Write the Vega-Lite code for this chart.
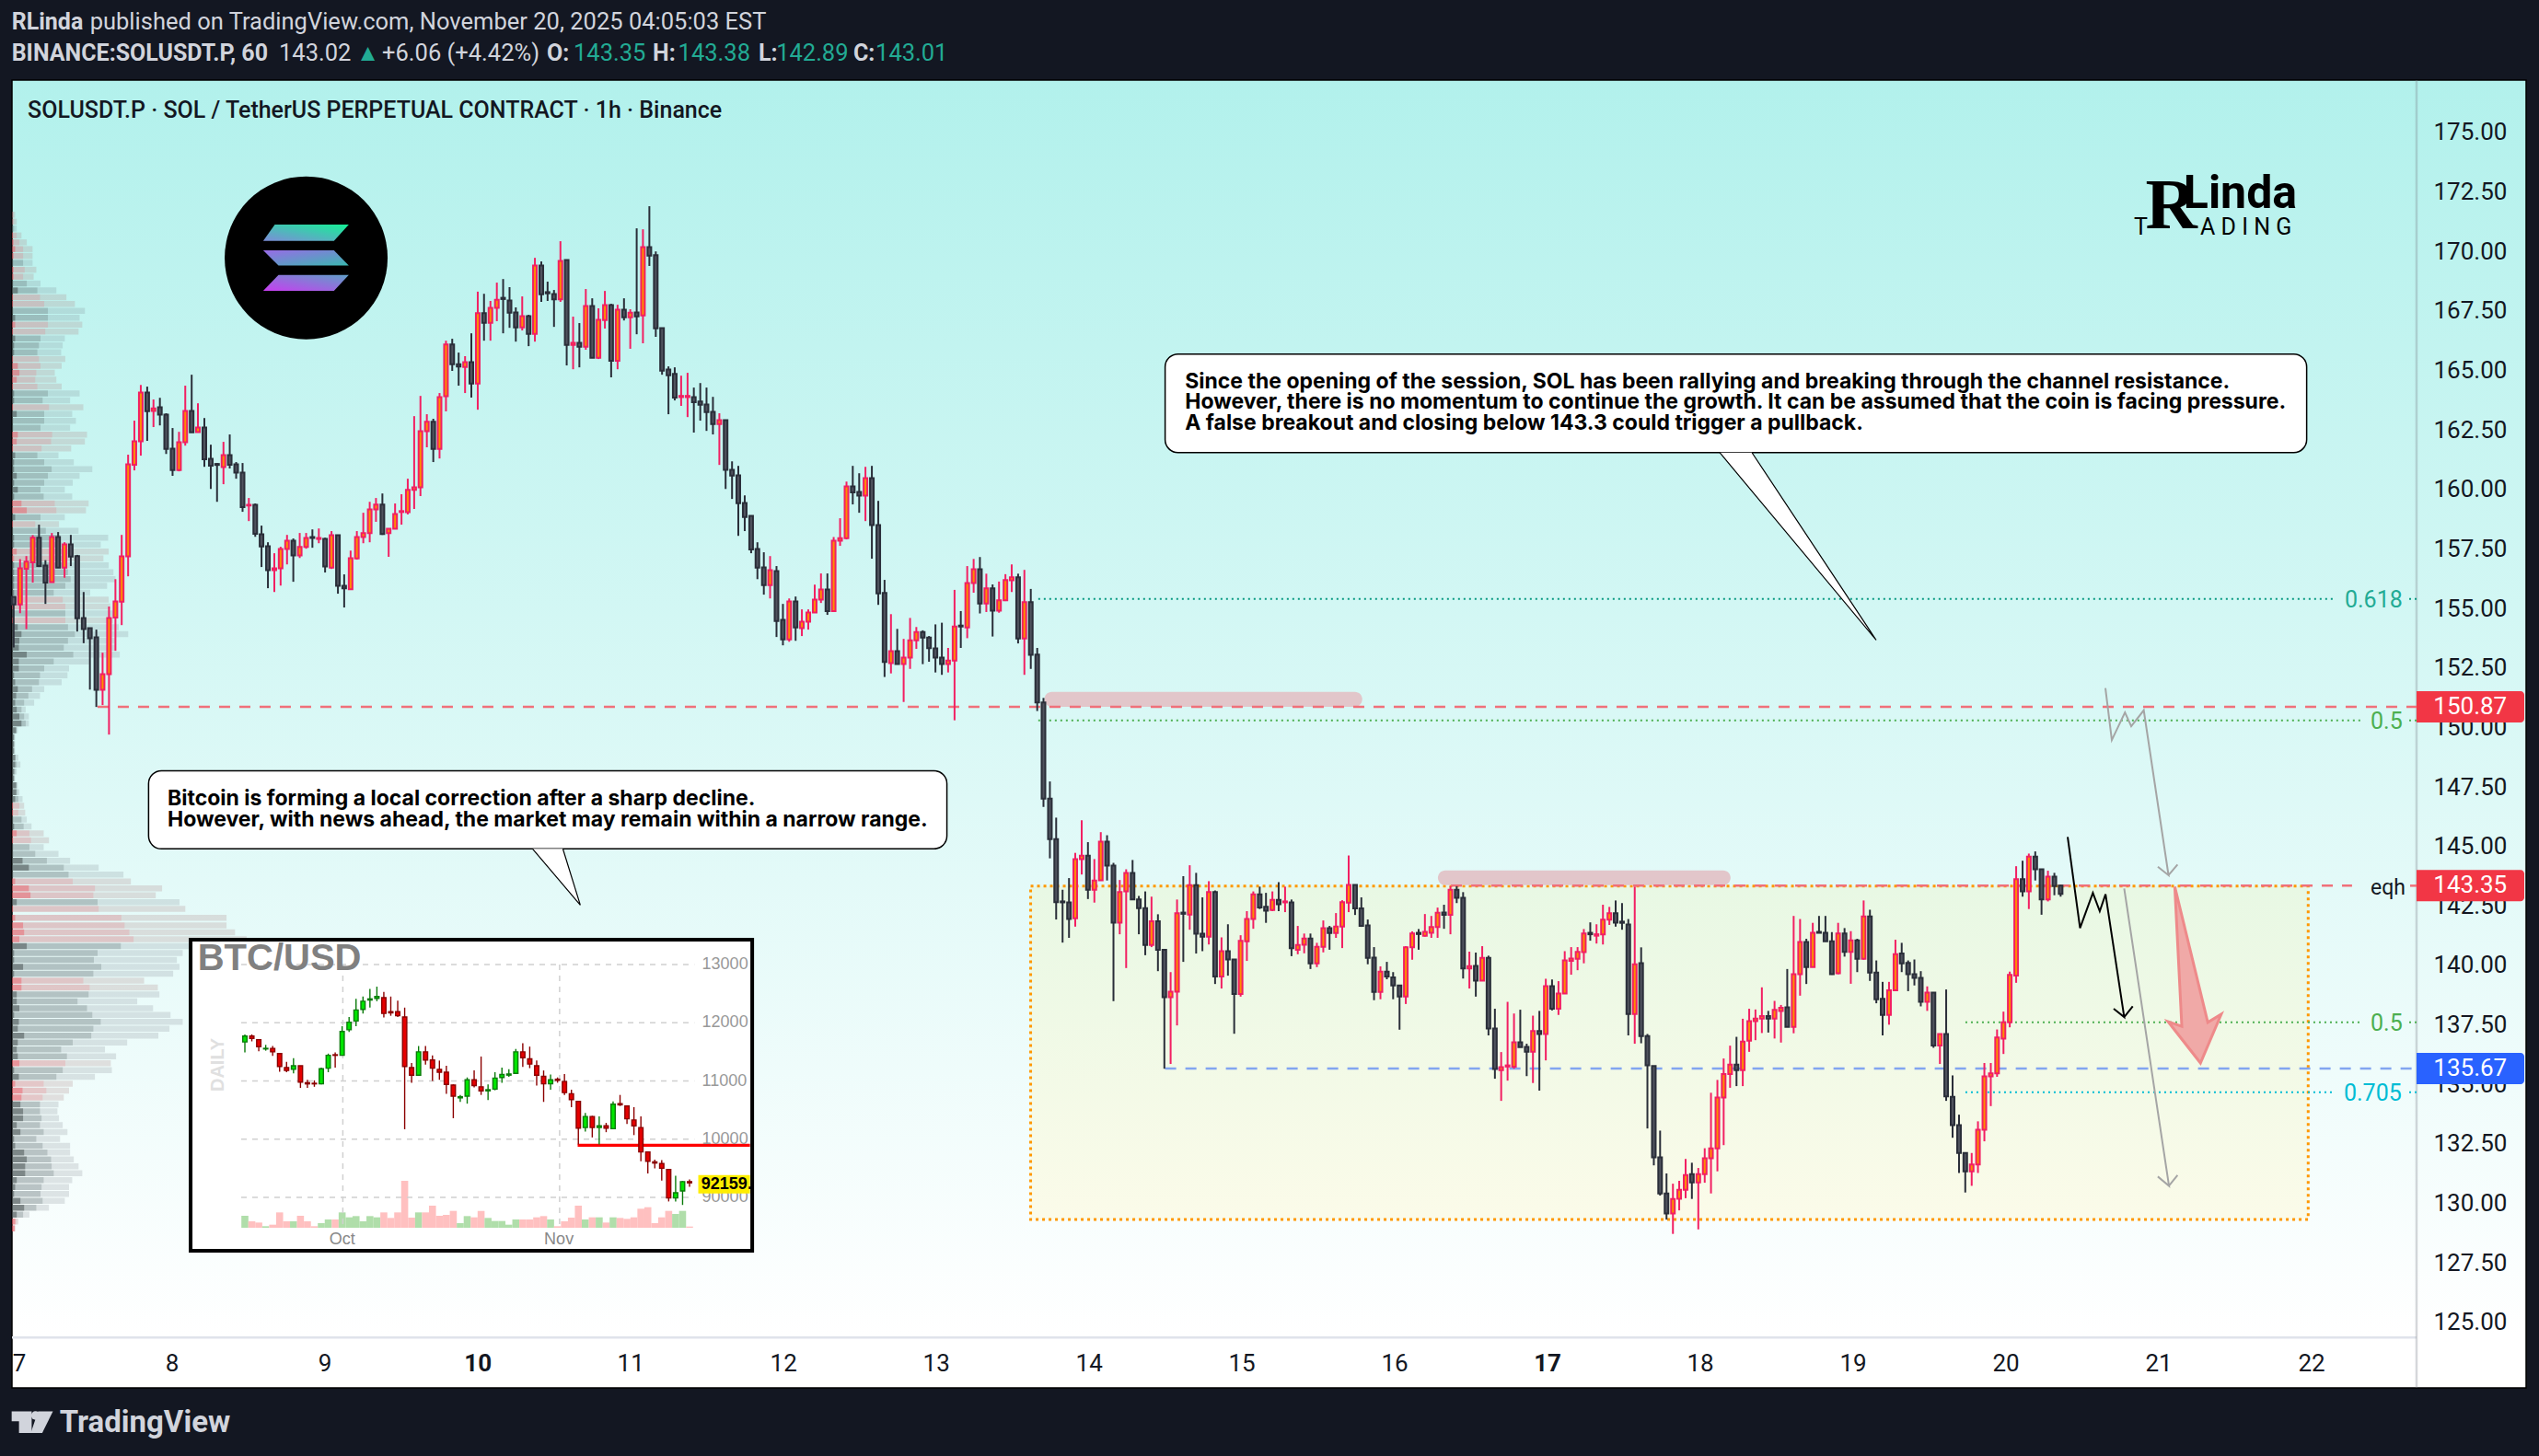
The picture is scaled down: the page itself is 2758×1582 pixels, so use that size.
{
"$schema":"https://vega.github.io/schema/vega-lite/v6.json",
"width":2731,"height":1421,
"autosize":{"type":"none"},
"padding":{"left":13,"top":87,"right":14,"bottom":74},
"background":"#131722",
"view":{"fill":{"gradient":"linear","x1":0,"y1":0,"x2":0,"y2":1,"stops":[{"offset":0,"color":"#b2f1ec"},{"offset":0.96,"color":"#ffffff"},{"offset":1,"color":"#ffffff"}]},"stroke":"#000000","strokeWidth":1.5},
"config":{"font":"Roboto","text":{"font":"Roboto"}},
"resolve":{"scale":{"x":"independent","y":"independent"},"axis":{"x":"independent","y":"independent"}},
"datasets":{
"profile":[
{"p":171.54,"k":"r","a":0,"b":3,"c":6},{"p":171.25,"k":"r","a":0,"b":4,"c":9},{"p":170.96,"k":"g","a":0,"b":4,"c":9},{"p":170.67,"k":"r","a":2,"b":9,"c":18},{"p":170.38,"k":"r","a":3,"b":14,"c":28},{"p":170.10,"k":"r","a":6,"b":21,"c":39},{"p":169.81,"k":"r","a":3,"b":21,"c":39},{"p":169.52,"k":"g","a":2,"b":21,"c":39},{"p":169.23,"k":"r","a":3,"b":24,"c":46},{"p":168.94,"k":"r","a":3,"b":21,"c":41},
{"p":168.65,"k":"g","a":2,"b":28,"c":54},{"p":168.36,"k":"g","a":11,"b":48,"c":84},{"p":168.07,"k":"r","a":2,"b":53,"c":103},{"p":167.79,"k":"r","a":2,"b":61,"c":119},{"p":167.50,"k":"g","a":2,"b":68,"c":138},{"p":167.21,"k":"g","a":6,"b":68,"c":128},{"p":166.92,"k":"r","a":6,"b":68,"c":133},{"p":166.63,"k":"r","a":2,"b":63,"c":126},{"p":166.34,"k":"g","a":6,"b":54,"c":100},{"p":166.05,"k":"g","a":4,"b":51,"c":96},
{"p":165.76,"k":"g","a":4,"b":48,"c":93},{"p":165.48,"k":"r","a":2,"b":51,"c":101},{"p":165.19,"k":"r","a":11,"b":54,"c":94},{"p":164.90,"k":"r","a":14,"b":46,"c":81},{"p":164.61,"k":"r","a":9,"b":44,"c":84},{"p":164.32,"k":"r","a":2,"b":48,"c":94},{"p":164.03,"k":"g","a":4,"b":68,"c":128},{"p":163.74,"k":"g","a":4,"b":58,"c":110},{"p":163.45,"k":"r","a":2,"b":70,"c":135},{"p":163.17,"k":"g","a":9,"b":61,"c":114},
{"p":162.88,"k":"g","a":2,"b":61,"c":121},{"p":162.59,"k":"g","a":2,"b":54,"c":110},{"p":162.30,"k":"r","a":11,"b":76,"c":142},{"p":162.01,"k":"r","a":9,"b":74,"c":138},{"p":161.72,"k":"r","a":2,"b":56,"c":112},{"p":161.43,"k":"g","a":6,"b":48,"c":88},{"p":161.14,"k":"g","a":4,"b":61,"c":117},{"p":160.85,"k":"g","a":4,"b":75,"c":152},{"p":160.57,"k":"g","a":9,"b":68,"c":128},{"p":160.28,"k":"g","a":4,"b":61,"c":115},
{"p":159.99,"k":"g","a":11,"b":54,"c":100},{"p":159.70,"k":"g","a":4,"b":60,"c":114},{"p":159.41,"k":"r","a":18,"b":81,"c":145},{"p":159.12,"k":"r","a":28,"b":84,"c":140},{"p":158.83,"k":"g","a":6,"b":54,"c":100},{"p":158.54,"k":"r","a":2,"b":44,"c":89},{"p":158.26,"k":"g","a":2,"b":64,"c":126},{"p":157.97,"k":"g","a":4,"b":91,"c":182},{"p":157.68,"k":"g","a":4,"b":86,"c":168},{"p":157.39,"k":"r","a":9,"b":101,"c":183},
{"p":157.10,"k":"r","a":4,"b":96,"c":173},{"p":156.81,"k":"g","a":4,"b":101,"c":183},{"p":156.52,"k":"g","a":4,"b":106,"c":192},{"p":156.23,"k":"g","a":4,"b":111,"c":196},{"p":155.95,"k":"g","a":4,"b":101,"c":180},{"p":155.66,"k":"g","a":4,"b":79,"c":148},{"p":155.37,"k":"r","a":4,"b":96,"c":183},{"p":155.08,"k":"r","a":4,"b":101,"c":186},{"p":154.79,"k":"g","a":4,"b":101,"c":191},{"p":154.50,"k":"r","a":4,"b":101,"c":191},
{"p":154.21,"k":"g","a":11,"b":106,"c":202},{"p":153.92,"k":"g","a":18,"b":119,"c":220},{"p":153.64,"k":"g","a":14,"b":106,"c":196},{"p":153.35,"k":"g","a":13,"b":98,"c":196},{"p":153.06,"k":"g","a":28,"b":116,"c":204},{"p":152.77,"k":"g","a":13,"b":79,"c":146},{"p":152.48,"k":"g","a":13,"b":61,"c":108},{"p":152.19,"k":"g","a":4,"b":53,"c":105},{"p":151.90,"k":"g","a":6,"b":51,"c":94},{"p":151.61,"k":"g","a":11,"b":38,"c":61},
{"p":151.33,"k":"g","a":8,"b":31,"c":53},{"p":151.04,"k":"g","a":6,"b":23,"c":42},{"p":150.75,"k":"g","a":9,"b":18,"c":26},{"p":150.46,"k":"g","a":14,"b":23,"c":32},{"p":150.17,"k":"g","a":18,"b":26,"c":32},{"p":149.88,"k":"g","a":8,"b":8,"c":11},{"p":149.59,"k":"g","a":4,"b":4,"c":6},{"p":149.30,"k":"g","a":4,"b":4,"c":6},{"p":149.02,"k":"g","a":4,"b":4,"c":6},{"p":148.73,"k":"g","a":6,"b":7,"c":12},
{"p":148.44,"k":"g","a":6,"b":9,"c":16},{"p":148.15,"k":"g","a":4,"b":6,"c":9},{"p":147.86,"k":"g","a":4,"b":4,"c":6},{"p":147.57,"k":"g","a":8,"b":9,"c":11},{"p":147.28,"k":"g","a":8,"b":10,"c":14},{"p":146.99,"k":"g","a":6,"b":12,"c":20},{"p":146.71,"k":"r","a":2,"b":14,"c":23},{"p":146.42,"k":"r","a":2,"b":12,"c":25},{"p":146.13,"k":"g","a":2,"b":18,"c":28},{"p":145.84,"k":"g","a":4,"b":22,"c":37},
{"p":145.55,"k":"r","a":9,"b":33,"c":60},{"p":145.26,"k":"r","a":2,"b":36,"c":70},{"p":144.97,"k":"g","a":2,"b":33,"c":60},{"p":144.69,"k":"g","a":2,"b":44,"c":88},{"p":144.40,"k":"g","a":20,"b":66,"c":110},{"p":144.11,"k":"g","a":32,"b":98,"c":164},{"p":143.82,"k":"g","a":2,"b":107,"c":211},{"p":143.53,"k":"r","a":6,"b":115,"c":225},{"p":143.24,"k":"r","a":32,"b":157,"c":284},{"p":142.95,"k":"r","a":35,"b":154,"c":272},
{"p":142.66,"k":"g","a":9,"b":162,"c":317},{"p":142.38,"k":"r","a":2,"b":164,"c":328},{"p":142.00,"k":"r","a":6,"b":207,"c":406},{"p":141.68,"k":"r","a":21,"b":213,"c":406},{"p":141.39,"k":"r","a":23,"b":222,"c":422},{"p":141.10,"k":"r","a":14,"b":230,"c":444},{"p":140.81,"k":"g","a":28,"b":206,"c":336},{"p":140.52,"k":"g","a":4,"b":162,"c":323},{"p":140.23,"k":"g","a":4,"b":155,"c":312},{"p":139.94,"k":"g","a":21,"b":169,"c":317},
{"p":139.65,"k":"g","a":4,"b":154,"c":305},{"p":139.36,"k":"r","a":18,"b":135,"c":250},{"p":139.07,"k":"r","a":18,"b":147,"c":276},{"p":138.78,"k":"g","a":9,"b":145,"c":279},{"p":138.49,"k":"g","a":9,"b":124,"c":237},{"p":138.20,"k":"g","a":14,"b":142,"c":267},{"p":137.92,"k":"g","a":4,"b":152,"c":300},{"p":137.63,"k":"g","a":13,"b":168,"c":323},{"p":137.34,"k":"g","a":11,"b":154,"c":298},{"p":137.05,"k":"g","a":23,"b":150,"c":277},
{"p":136.76,"k":"g","a":11,"b":115,"c":218},{"p":136.47,"k":"g","a":9,"b":93,"c":176},{"p":136.18,"k":"g","a":11,"b":104,"c":197},{"p":135.89,"k":"r","a":14,"b":101,"c":187},{"p":135.60,"k":"g","a":4,"b":96,"c":189},{"p":135.32,"k":"g","a":13,"b":84,"c":157},{"p":135.03,"k":"r","a":6,"b":60,"c":115},{"p":134.74,"k":"r","a":20,"b":65,"c":108},{"p":134.45,"k":"r","a":18,"b":58,"c":98},{"p":134.16,"k":"g","a":16,"b":53,"c":88},
{"p":133.87,"k":"g","a":21,"b":53,"c":86},{"p":133.58,"k":"g","a":21,"b":56,"c":89},{"p":133.29,"k":"g","a":9,"b":53,"c":96},{"p":133.00,"k":"g","a":16,"b":60,"c":105},{"p":132.71,"k":"g","a":4,"b":46,"c":91},{"p":132.42,"k":"g","a":6,"b":58,"c":110},{"p":132.14,"k":"g","a":23,"b":67,"c":110},{"p":131.85,"k":"g","a":28,"b":74,"c":117},{"p":131.56,"k":"g","a":25,"b":75,"c":126},{"p":131.27,"k":"g","a":25,"b":79,"c":133},
{"p":130.98,"k":"g","a":9,"b":60,"c":114},{"p":130.69,"k":"g","a":6,"b":56,"c":108},{"p":130.40,"k":"g","a":4,"b":54,"c":108},{"p":130.11,"k":"g","a":16,"b":58,"c":100},{"p":129.82,"k":"g","a":23,"b":46,"c":70},{"p":129.53,"k":"g","a":9,"b":21,"c":33},{"p":129.24,"k":"r","a":6,"b":8,"c":12},{"p":128.95,"k":"r","a":5,"b":6,"c":6}
],
"candles":[
{"d":6.965,"o":155.49,"h":155.49,"l":153.36,"c":155.17},{"d":7.007,"o":155.17,"h":157.07,"l":154.80,"c":156.69},{"d":7.048,"o":156.67,"h":157.20,"l":154.13,"c":156.97},{"d":7.090,"o":156.94,"h":158.08,"l":156.09,"c":157.97},{"d":7.131,"o":157.97,"h":158.52,"l":156.74,"c":156.78},{"d":7.173,"o":156.80,"h":157.03,"l":155.19,"c":156.09},{"d":7.215,"o":156.11,"h":158.17,"l":156.11,"c":158.00},{"d":7.256,"o":158.00,"h":158.21,"l":156.71,"c":156.71},{"d":7.298,"o":156.71,"h":157.78,"l":156.29,"c":157.69},{"d":7.339,"o":157.69,"h":158.09,"l":156.78,"c":157.18},
{"d":7.381,"o":157.20,"h":157.25,"l":154.03,"c":154.59},{"d":7.423,"o":154.60,"h":155.69,"l":153.54,"c":154.13},{"d":7.464,"o":154.17,"h":154.17,"l":151.59,"c":153.75},{"d":7.506,"o":153.79,"h":154.11,"l":150.86,"c":151.58},{"d":7.547,"o":151.58,"h":153.14,"l":150.94,"c":152.24},{"d":7.589,"o":152.24,"h":155.08,"l":149.70,"c":154.60},{"d":7.631,"o":154.62,"h":156.23,"l":153.22,"c":155.29},{"d":7.672,"o":155.28,"h":158.09,"l":154.30,"c":157.19},{"d":7.714,"o":157.19,"h":161.46,"l":156.35,"c":161.06},{"d":7.755,"o":161.04,"h":162.89,"l":160.80,"c":162.02},
{"d":7.797,"o":162.02,"h":164.39,"l":161.42,"c":164.07},{"d":7.839,"o":164.07,"h":164.32,"l":162.04,"c":163.29},{"d":7.880,"o":163.30,"h":163.78,"l":162.62,"c":163.40},{"d":7.922,"o":163.45,"h":163.85,"l":162.69,"c":163.14},{"d":7.963,"o":163.14,"h":163.20,"l":161.49,"c":161.70},{"d":8.005,"o":161.71,"h":162.58,"l":160.57,"c":160.81},{"d":8.047,"o":160.81,"h":162.42,"l":160.76,"c":161.98},{"d":8.088,"o":161.98,"h":164.36,"l":161.84,"c":163.30},{"d":8.130,"o":163.30,"h":164.82,"l":162.40,"c":162.40},{"d":8.171,"o":162.41,"h":163.62,"l":162.40,"c":162.60},
{"d":8.213,"o":162.60,"h":163.00,"l":160.95,"c":161.27},{"d":8.255,"o":161.29,"h":161.88,"l":160.02,"c":161.00},{"d":8.296,"o":161.07,"h":161.11,"l":159.48,"c":161.03},{"d":8.338,"o":160.94,"h":162.00,"l":160.22,"c":161.44},{"d":8.379,"o":161.44,"h":162.31,"l":160.88,"c":161.04},{"d":8.421,"o":161.06,"h":161.15,"l":160.45,"c":160.71},{"d":8.463,"o":160.71,"h":161.11,"l":159.06,"c":159.26},{"d":8.504,"o":159.32,"h":159.64,"l":158.67,"c":159.35},{"d":8.546,"o":159.35,"h":159.41,"l":158.01,"c":158.14},{"d":8.587,"o":158.12,"h":158.48,"l":156.74,"c":157.60},
{"d":8.629,"o":157.61,"h":157.78,"l":155.85,"c":156.61},{"d":8.671,"o":156.61,"h":157.32,"l":155.69,"c":156.69},{"d":8.712,"o":156.69,"h":157.59,"l":155.96,"c":157.50},{"d":8.754,"o":157.50,"h":158.09,"l":156.85,"c":157.85},{"d":8.795,"o":157.85,"h":157.94,"l":156.12,"c":157.23},{"d":8.837,"o":157.23,"h":158.17,"l":157.12,"c":157.58},{"d":8.879,"o":157.58,"h":158.17,"l":157.51,"c":157.96},{"d":8.920,"o":158.00,"h":158.32,"l":157.55,"c":157.96},{"d":8.962,"o":157.92,"h":158.36,"l":157.74,"c":157.96},{"d":9.003,"o":157.92,"h":157.97,"l":156.51,"c":156.76},
{"d":9.045,"o":156.71,"h":158.25,"l":156.66,"c":158.08},{"d":9.087,"o":158.08,"h":158.08,"l":155.62,"c":155.95},{"d":9.128,"o":155.95,"h":156.43,"l":155.04,"c":155.84},{"d":9.170,"o":155.81,"h":157.43,"l":155.81,"c":157.11},{"d":9.211,"o":157.10,"h":158.25,"l":157.05,"c":158.00},{"d":9.253,"o":158.00,"h":159.02,"l":157.74,"c":158.16},{"d":9.295,"o":158.16,"h":159.48,"l":157.78,"c":159.16},{"d":9.336,"o":159.16,"h":159.64,"l":158.64,"c":159.36},{"d":9.378,"o":159.36,"h":159.83,"l":158.09,"c":158.13},{"d":9.419,"o":158.16,"h":158.35,"l":157.17,"c":158.35},
{"d":9.461,"o":158.35,"h":159.41,"l":158.35,"c":158.97},{"d":9.503,"o":159.05,"h":159.80,"l":158.52,"c":159.09},{"d":9.544,"o":159.04,"h":160.45,"l":158.95,"c":159.98},{"d":9.586,"o":159.98,"h":163.08,"l":159.18,"c":160.09},{"d":9.627,"o":160.09,"h":163.93,"l":159.72,"c":162.45},{"d":9.669,"o":162.45,"h":163.16,"l":161.77,"c":162.84},{"d":9.711,"o":162.84,"h":162.97,"l":161.15,"c":161.70},{"d":9.752,"o":161.70,"h":164.05,"l":161.30,"c":163.88},{"d":9.794,"o":163.92,"h":166.25,"l":163.28,"c":166.09},{"d":9.835,"o":166.09,"h":166.33,"l":164.98,"c":165.26},
{"d":9.877,"o":165.26,"h":165.75,"l":164.36,"c":165.16},{"d":9.919,"o":165.14,"h":165.60,"l":164.05,"c":165.35},{"d":9.960,"o":165.35,"h":166.56,"l":163.86,"c":164.45},{"d":10.002,"o":164.45,"h":168.31,"l":163.35,"c":167.41},{"d":10.043,"o":167.41,"h":168.22,"l":166.25,"c":167.00},{"d":10.085,"o":167.00,"h":167.92,"l":166.25,"c":167.63},{"d":10.127,"o":167.63,"h":168.69,"l":167.07,"c":167.97},{"d":10.168,"o":168.05,"h":168.84,"l":166.56,"c":168.00},{"d":10.210,"o":167.94,"h":168.50,"l":166.79,"c":167.43},{"d":10.251,"o":167.44,"h":167.65,"l":166.21,"c":166.81},
{"d":10.293,"o":166.81,"h":168.11,"l":166.68,"c":167.28},{"d":10.335,"o":167.28,"h":167.34,"l":166.02,"c":166.54},{"d":10.376,"o":166.54,"h":169.73,"l":166.21,"c":169.41},{"d":10.418,"o":169.41,"h":169.58,"l":167.88,"c":168.20},{"d":10.459,"o":168.29,"h":168.73,"l":167.92,"c":168.24},{"d":10.501,"o":168.21,"h":168.38,"l":166.83,"c":167.99},{"d":10.543,"o":167.99,"h":170.43,"l":167.88,"c":169.60},{"d":10.584,"o":169.64,"h":169.64,"l":165.21,"c":166.07},{"d":10.626,"o":166.07,"h":167.26,"l":165.05,"c":166.16},{"d":10.667,"o":166.16,"h":166.99,"l":165.13,"c":166.00},
{"d":10.709,"o":166.00,"h":168.42,"l":165.87,"c":167.71},{"d":10.751,"o":167.71,"h":168.03,"l":165.53,"c":165.53},{"d":10.792,"o":165.53,"h":167.61,"l":165.48,"c":167.13},{"d":10.834,"o":167.12,"h":168.34,"l":166.76,"c":167.75},{"d":10.875,"o":167.75,"h":167.80,"l":164.71,"c":165.41},{"d":10.917,"o":165.41,"h":167.76,"l":165.05,"c":167.55},{"d":10.959,"o":167.55,"h":168.03,"l":167.10,"c":167.23},{"d":11.000,"o":167.23,"h":167.57,"l":165.91,"c":167.43},{"d":11.042,"o":167.44,"h":170.97,"l":166.52,"c":167.27},{"d":11.083,"o":167.31,"h":170.93,"l":166.14,"c":170.18},
{"d":11.125,"o":170.18,"h":171.90,"l":169.39,"c":169.82},{"d":11.167,"o":169.84,"h":170.00,"l":166.41,"c":166.77},{"d":11.208,"o":166.78,"h":166.78,"l":164.82,"c":164.99},{"d":11.250,"o":165.04,"h":165.17,"l":163.16,"c":164.80},{"d":11.291,"o":164.85,"h":165.13,"l":163.74,"c":163.86},{"d":11.333,"o":163.88,"h":164.78,"l":163.51,"c":163.93},{"d":11.375,"o":163.88,"h":164.90,"l":163.04,"c":163.93},{"d":11.416,"o":163.88,"h":164.28,"l":162.39,"c":163.67},{"d":11.458,"o":163.69,"h":164.47,"l":162.89,"c":163.56},{"d":11.499,"o":163.57,"h":164.28,"l":162.46,"c":163.25},
{"d":11.541,"o":163.26,"h":163.89,"l":162.31,"c":162.75},{"d":11.583,"o":162.75,"h":163.20,"l":161.03,"c":162.91},{"d":11.624,"o":162.91,"h":162.91,"l":160.02,"c":160.82},{"d":11.666,"o":160.82,"h":161.18,"l":159.60,"c":160.58},{"d":11.707,"o":160.59,"h":160.99,"l":158.05,"c":159.42},{"d":11.749,"o":159.43,"h":159.75,"l":158.25,"c":158.84},{"d":11.791,"o":158.89,"h":158.89,"l":157.32,"c":157.48},{"d":11.832,"o":157.50,"h":157.78,"l":156.23,"c":156.71},{"d":11.874,"o":156.72,"h":157.36,"l":155.58,"c":155.98},{"d":11.915,"o":155.98,"h":157.20,"l":155.42,"c":156.61},
{"d":11.957,"o":156.57,"h":156.78,"l":153.80,"c":154.47},{"d":11.999,"o":154.52,"h":155.19,"l":153.45,"c":153.70},{"d":12.040,"o":153.70,"h":155.42,"l":153.60,"c":155.29},{"d":12.082,"o":155.29,"h":155.50,"l":153.64,"c":154.20},{"d":12.123,"o":154.17,"h":154.96,"l":153.84,"c":154.44},{"d":12.165,"o":154.44,"h":154.96,"l":154.11,"c":154.83},{"d":12.207,"o":154.83,"h":156.00,"l":154.83,"c":155.37},{"d":12.248,"o":155.37,"h":156.47,"l":155.23,"c":155.80},{"d":12.290,"o":155.80,"h":156.47,"l":154.73,"c":154.89},{"d":12.331,"o":154.89,"h":158.00,"l":154.89,"c":157.85},
{"d":12.373,"o":157.85,"h":158.79,"l":157.63,"c":157.95},{"d":12.415,"o":157.95,"h":160.33,"l":157.90,"c":160.13},{"d":12.456,"o":160.13,"h":160.99,"l":159.37,"c":159.88},{"d":12.498,"o":159.90,"h":160.68,"l":159.02,"c":159.74},{"d":12.539,"o":159.74,"h":160.95,"l":158.67,"c":160.48},{"d":12.581,"o":160.48,"h":160.99,"l":157.09,"c":158.50},{"d":12.623,"o":158.50,"h":159.52,"l":155.15,"c":155.63},{"d":12.664,"o":155.65,"h":156.20,"l":152.12,"c":152.75},{"d":12.706,"o":152.70,"h":154.76,"l":152.27,"c":153.21},{"d":12.747,"o":153.21,"h":154.14,"l":152.66,"c":152.66},
{"d":12.789,"o":152.66,"h":153.72,"l":151.07,"c":152.93},{"d":12.831,"o":152.93,"h":154.60,"l":152.46,"c":153.66},{"d":12.872,"o":153.66,"h":154.22,"l":153.30,"c":154.01},{"d":12.914,"o":154.01,"h":154.08,"l":152.66,"c":153.78},{"d":12.955,"o":153.78,"h":153.84,"l":152.76,"c":153.33},{"d":12.997,"o":153.32,"h":154.33,"l":152.31,"c":152.93},{"d":13.039,"o":152.93,"h":154.40,"l":152.21,"c":152.66},{"d":13.080,"o":152.66,"h":153.34,"l":152.31,"c":152.81},{"d":13.122,"o":152.81,"h":155.78,"l":150.30,"c":154.24},{"d":13.163,"o":154.28,"h":154.89,"l":153.34,"c":154.24},
{"d":13.205,"o":154.20,"h":156.78,"l":153.75,"c":156.07},{"d":13.247,"o":156.07,"h":157.08,"l":155.66,"c":156.65},{"d":13.288,"o":156.65,"h":157.16,"l":154.79,"c":155.21},{"d":13.330,"o":155.21,"h":156.46,"l":154.85,"c":155.84},{"d":13.371,"o":155.84,"h":156.01,"l":153.82,"c":154.91},{"d":13.413,"o":154.91,"h":156.13,"l":154.82,"c":155.34},{"d":13.455,"o":155.34,"h":156.44,"l":155.31,"c":156.19},{"d":13.496,"o":156.18,"h":156.85,"l":155.69,"c":156.31},{"d":13.538,"o":156.31,"h":156.46,"l":153.53,"c":153.74},{"d":13.579,"o":153.74,"h":156.62,"l":152.21,"c":155.26},
{"d":13.621,"o":155.26,"h":155.82,"l":152.46,"c":153.05},{"d":13.663,"o":153.06,"h":153.34,"l":150.69,"c":151.05},{"d":13.704,"o":151.05,"h":151.24,"l":146.66,"c":147.01},{"d":13.746,"o":147.01,"h":147.73,"l":144.50,"c":145.31},{"d":13.787,"o":145.31,"h":146.21,"l":141.93,"c":142.66},{"d":13.829,"o":142.69,"h":143.18,"l":140.96,"c":142.65},{"d":13.871,"o":142.65,"h":143.67,"l":141.16,"c":141.95},{"d":13.912,"o":141.98,"h":144.73,"l":141.63,"c":144.47},{"d":13.954,"o":144.47,"h":146.10,"l":143.82,"c":144.61},{"d":13.995,"o":144.61,"h":145.18,"l":142.79,"c":143.18},
{"d":14.037,"o":143.18,"h":144.47,"l":142.64,"c":143.57},{"d":14.079,"o":143.58,"h":145.60,"l":143.57,"c":145.20},{"d":14.120,"o":145.20,"h":145.47,"l":143.57,"c":144.20},{"d":14.162,"o":144.20,"h":144.31,"l":138.50,"c":141.80},{"d":14.203,"o":141.80,"h":143.59,"l":141.31,"c":143.08},{"d":14.245,"o":143.11,"h":144.04,"l":139.89,"c":143.89},{"d":14.287,"o":143.89,"h":144.43,"l":142.77,"c":142.77},{"d":14.328,"o":142.77,"h":142.92,"l":141.31,"c":142.41},{"d":14.370,"o":142.41,"h":143.11,"l":140.43,"c":140.86},{"d":14.411,"o":140.86,"h":142.89,"l":140.77,"c":141.86},
{"d":14.453,"o":141.86,"h":142.15,"l":139.76,"c":140.66},{"d":14.495,"o":140.66,"h":140.66,"l":135.66,"c":138.67},{"d":14.536,"o":138.67,"h":139.72,"l":135.86,"c":138.90},{"d":14.578,"o":138.90,"h":142.77,"l":137.48,"c":142.19},{"d":14.619,"o":142.22,"h":143.75,"l":140.15,"c":142.17},{"d":14.661,"o":142.14,"h":144.21,"l":141.50,"c":143.37},{"d":14.703,"o":143.37,"h":143.89,"l":140.50,"c":141.33},{"d":14.744,"o":141.33,"h":142.86,"l":140.60,"c":141.21},{"d":14.786,"o":141.21,"h":143.54,"l":140.88,"c":143.08},{"d":14.827,"o":143.08,"h":143.15,"l":139.22,"c":139.54},
{"d":14.869,"o":139.54,"h":141.18,"l":139.03,"c":140.60},{"d":14.911,"o":140.60,"h":141.73,"l":139.57,"c":140.25},{"d":14.952,"o":140.25,"h":140.25,"l":137.13,"c":138.80},{"d":14.994,"o":138.80,"h":141.27,"l":138.69,"c":141.03},{"d":15.035,"o":141.01,"h":142.28,"l":140.19,"c":141.95},{"d":15.077,"o":141.95,"h":143.11,"l":141.54,"c":142.99},{"d":15.119,"o":142.99,"h":143.31,"l":142.37,"c":142.44},{"d":15.160,"o":142.46,"h":143.05,"l":141.79,"c":142.30},{"d":15.202,"o":142.33,"h":143.11,"l":142.28,"c":142.75},{"d":15.243,"o":142.75,"h":143.50,"l":142.28,"c":142.57},
{"d":15.285,"o":142.65,"h":143.31,"l":142.24,"c":142.69},{"d":15.327,"o":142.65,"h":142.77,"l":140.39,"c":140.72},{"d":15.368,"o":140.66,"h":141.66,"l":140.47,"c":140.86},{"d":15.410,"o":140.87,"h":141.34,"l":140.51,"c":141.13},{"d":15.451,"o":141.13,"h":141.34,"l":139.85,"c":140.09},{"d":15.493,"o":140.09,"h":140.95,"l":139.93,"c":140.78},{"d":15.535,"o":140.78,"h":141.89,"l":140.55,"c":141.57},{"d":15.576,"o":141.57,"h":141.66,"l":140.66,"c":141.36},{"d":15.618,"o":141.36,"h":142.20,"l":141.16,"c":141.63},{"d":15.659,"o":141.63,"h":142.74,"l":140.73,"c":142.66},
{"d":15.701,"o":142.64,"h":144.62,"l":142.24,"c":143.38},{"d":15.743,"o":143.38,"h":143.38,"l":142.12,"c":142.40},{"d":15.784,"o":142.40,"h":142.86,"l":141.62,"c":141.66},{"d":15.826,"o":141.68,"h":141.93,"l":140.05,"c":140.32},{"d":15.867,"o":140.33,"h":140.77,"l":138.54,"c":138.89},{"d":15.909,"o":138.89,"h":139.96,"l":138.58,"c":139.74},{"d":15.951,"o":139.74,"h":140.15,"l":139.42,"c":139.54},{"d":15.992,"o":139.50,"h":139.72,"l":138.58,"c":139.16},{"d":16.034,"o":139.16,"h":139.18,"l":137.30,"c":138.69},{"d":16.075,"o":138.69,"h":140.81,"l":138.38,"c":140.76},
{"d":16.117,"o":140.76,"h":141.43,"l":140.24,"c":141.34},{"d":16.159,"o":141.37,"h":141.53,"l":140.66,"c":141.32},{"d":16.200,"o":141.25,"h":142.16,"l":141.21,"c":141.41},{"d":16.242,"o":141.37,"h":142.08,"l":141.16,"c":141.61},{"d":16.283,"o":141.61,"h":142.43,"l":141.16,"c":142.21},{"d":16.325,"o":142.22,"h":142.55,"l":141.54,"c":142.13},{"d":16.367,"o":142.13,"h":143.33,"l":141.31,"c":143.18},{"d":16.408,"o":143.18,"h":143.33,"l":142.62,"c":142.84},{"d":16.450,"o":142.84,"h":143.08,"l":139.45,"c":139.87},{"d":16.491,"o":139.87,"h":140.58,"l":139.03,"c":139.97},
{"d":16.533,"o":139.98,"h":140.54,"l":138.69,"c":139.36},{"d":16.575,"o":139.36,"h":140.81,"l":139.36,"c":140.32},{"d":16.616,"o":140.32,"h":140.41,"l":137.06,"c":137.35},{"d":16.658,"o":137.35,"h":138.18,"l":135.24,"c":135.65},{"d":16.699,"o":135.60,"h":136.36,"l":134.31,"c":135.73},{"d":16.741,"o":135.75,"h":138.47,"l":135.16,"c":135.80},{"d":16.783,"o":135.75,"h":137.98,"l":135.66,"c":136.77},{"d":16.824,"o":136.77,"h":138.14,"l":136.57,"c":136.57},{"d":16.866,"o":136.58,"h":136.71,"l":135.35,"c":136.37},{"d":16.907,"o":136.37,"h":137.89,"l":135.06,"c":137.24},
{"d":16.949,"o":137.24,"h":138.09,"l":134.74,"c":137.12},{"d":16.991,"o":137.12,"h":139.44,"l":136.01,"c":139.13},{"d":17.032,"o":139.13,"h":139.41,"l":138.11,"c":138.18},{"d":17.074,"o":138.18,"h":139.34,"l":137.92,"c":138.82},{"d":17.115,"o":138.82,"h":140.60,"l":138.80,"c":140.21},{"d":17.157,"o":140.19,"h":140.77,"l":139.61,"c":140.29},{"d":17.199,"o":140.28,"h":140.77,"l":139.80,"c":140.57},{"d":17.240,"o":140.56,"h":141.53,"l":140.09,"c":141.34},{"d":17.282,"o":141.37,"h":141.81,"l":141.04,"c":141.31},{"d":17.323,"o":141.25,"h":141.73,"l":140.92,"c":141.31},
{"d":17.365,"o":141.30,"h":142.55,"l":140.88,"c":141.92},{"d":17.407,"o":141.92,"h":142.46,"l":141.70,"c":142.19},{"d":17.448,"o":142.19,"h":142.73,"l":141.63,"c":141.80},{"d":17.490,"o":141.84,"h":142.62,"l":141.50,"c":141.79},{"d":17.531,"o":141.72,"h":141.95,"l":137.06,"c":137.96},{"d":17.573,"o":137.96,"h":143.31,"l":136.71,"c":140.05},{"d":17.615,"o":140.10,"h":140.76,"l":136.73,"c":137.03},{"d":17.656,"o":137.03,"h":137.12,"l":133.15,"c":135.80},{"d":17.698,"o":135.77,"h":135.77,"l":131.60,"c":131.94},{"d":17.739,"o":131.94,"h":133.06,"l":130.33,"c":130.42},
{"d":17.781,"o":130.42,"h":131.26,"l":129.32,"c":129.58},{"d":17.823,"o":129.58,"h":130.83,"l":128.72,"c":130.19},{"d":17.864,"o":130.20,"h":130.95,"l":129.71,"c":130.57},{"d":17.906,"o":130.57,"h":131.87,"l":130.22,"c":131.19},{"d":17.947,"o":131.23,"h":131.71,"l":130.19,"c":130.88},{"d":17.989,"o":130.88,"h":131.49,"l":128.91,"c":131.23},{"d":18.031,"o":131.23,"h":132.32,"l":130.87,"c":131.90},{"d":18.072,"o":131.90,"h":134.65,"l":130.42,"c":132.31},{"d":18.114,"o":132.31,"h":135.19,"l":131.35,"c":134.45},{"d":18.155,"o":134.45,"h":136.09,"l":132.45,"c":135.44},
{"d":18.197,"o":135.44,"h":136.63,"l":134.86,"c":135.83},{"d":18.239,"o":135.83,"h":137.00,"l":134.93,"c":135.60},{"d":18.280,"o":135.60,"h":137.76,"l":134.93,"c":136.80},{"d":18.322,"o":136.84,"h":138.18,"l":136.37,"c":137.66},{"d":18.363,"o":137.66,"h":138.15,"l":136.86,"c":137.77},{"d":18.405,"o":137.77,"h":139.08,"l":137.16,"c":137.87},{"d":18.447,"o":137.87,"h":138.09,"l":137.18,"c":137.77},{"d":18.488,"o":137.77,"h":138.51,"l":136.93,"c":138.13},{"d":18.530,"o":138.09,"h":138.34,"l":136.76,"c":138.22},{"d":18.571,"o":138.24,"h":139.85,"l":137.42,"c":137.42},
{"d":18.613,"o":137.42,"h":142.08,"l":137.15,"c":139.63},{"d":18.655,"o":139.63,"h":141.95,"l":138.73,"c":140.99},{"d":18.696,"o":140.99,"h":141.12,"l":139.22,"c":139.93},{"d":18.738,"o":139.93,"h":141.79,"l":139.93,"c":141.37},{"d":18.779,"o":141.41,"h":142.08,"l":141.37,"c":141.37},{"d":18.821,"o":141.37,"h":142.08,"l":141.01,"c":141.01},{"d":18.863,"o":141.01,"h":141.40,"l":139.61,"c":139.63},{"d":18.904,"o":139.67,"h":141.79,"l":139.63,"c":141.34},{"d":18.946,"o":141.34,"h":141.57,"l":140.37,"c":140.57},{"d":18.987,"o":140.57,"h":141.44,"l":139.23,"c":141.05},
{"d":19.029,"o":141.05,"h":141.12,"l":139.72,"c":140.28},{"d":19.071,"o":140.28,"h":142.73,"l":140.24,"c":142.06},{"d":19.112,"o":142.06,"h":142.34,"l":139.35,"c":139.70},{"d":19.154,"o":139.70,"h":140.21,"l":138.41,"c":138.58},{"d":19.195,"o":138.60,"h":139.31,"l":137.06,"c":137.92},{"d":19.237,"o":137.92,"h":139.31,"l":137.51,"c":138.96},{"d":19.279,"o":138.96,"h":141.08,"l":138.92,"c":140.47},{"d":19.320,"o":140.50,"h":140.95,"l":139.72,"c":140.09},{"d":19.362,"o":140.11,"h":140.21,"l":138.92,"c":139.63},{"d":19.403,"o":139.63,"h":140.25,"l":139.16,"c":139.48},
{"d":19.445,"o":139.48,"h":139.76,"l":138.28,"c":138.47},{"d":19.487,"o":138.47,"h":139.12,"l":138.09,"c":138.86},{"d":19.528,"o":138.86,"h":138.86,"l":136.54,"c":136.64},{"d":19.570,"o":136.64,"h":137.12,"l":135.86,"c":137.12},{"d":19.611,"o":137.12,"h":138.99,"l":134.31,"c":134.50},{"d":19.653,"o":134.48,"h":135.38,"l":132.76,"c":133.29},{"d":19.695,"o":133.29,"h":133.73,"l":131.28,"c":132.12},{"d":19.736,"o":132.12,"h":132.12,"l":130.46,"c":131.35},{"d":19.778,"o":131.35,"h":132.12,"l":130.74,"c":131.64},{"d":19.819,"o":131.64,"h":133.45,"l":131.28,"c":133.10},
{"d":19.861,"o":133.10,"h":135.90,"l":132.61,"c":135.34},{"d":19.903,"o":135.34,"h":135.90,"l":134.09,"c":135.47},{"d":19.944,"o":135.47,"h":137.31,"l":135.32,"c":136.97},{"d":19.986,"o":136.93,"h":138.06,"l":136.28,"c":137.61},{"d":20.027,"o":137.61,"h":139.74,"l":137.40,"c":139.60},{"d":20.069,"o":139.57,"h":144.17,"l":139.27,"c":143.62},{"d":20.111,"o":143.62,"h":144.40,"l":142.89,"c":143.11},{"d":20.152,"o":143.11,"h":144.70,"l":142.37,"c":144.57},{"d":20.194,"o":144.57,"h":144.79,"l":143.57,"c":144.04},{"d":20.235,"o":144.04,"h":144.05,"l":142.13,"c":142.77},
{"d":20.277,"o":142.77,"h":143.98,"l":142.69,"c":143.73},{"d":20.319,"o":143.73,"h":143.89,"l":142.95,"c":143.33},{"d":20.360,"o":143.35,"h":143.38,"l":142.89,"c":143.01}
],
"btc":[
{"i":0,"o":116.7,"h":118.0,"l":114.9,"c":117.7,"v":39},{"i":1,"o":117.7,"h":118.0,"l":116.8,"c":117.3,"v":21},{"i":2,"o":117.1,"h":117.2,"l":115.1,"c":115.9,"v":17},{"i":3,"o":115.5,"h":116.2,"l":115.2,"c":115.6,"v":5},{"i":4,"o":115.6,"h":116.0,"l":114.3,"c":115.0,"v":10},{"i":5,"o":114.7,"h":114.7,"l":111.6,"c":112.5,"v":50},{"i":6,"o":112.3,"h":113.3,"l":111.5,"c":111.8,"v":21},{"i":7,"o":112.0,"h":113.9,"l":111.3,"c":112.6,"v":21},{"i":8,"o":112.6,"h":112.6,"l":108.8,"c":109.8,"v":39},{"i":9,"o":109.7,"h":110.2,"l":108.8,"c":109.5,"v":21},
{"i":10,"o":109.6,"h":110.1,"l":109.0,"c":109.5,"v":5},{"i":11,"o":109.5,"h":112.3,"l":109.4,"c":112.1,"v":15},{"i":12,"o":112.2,"h":114.7,"l":111.5,"c":114.4,"v":27},{"i":13,"o":114.5,"h":114.9,"l":112.3,"c":114.4,"v":27},{"i":14,"o":114.4,"h":119.4,"l":114.4,"c":118.5,"v":50},{"i":15,"o":118.8,"h":121.0,"l":118.4,"c":120.1,"v":34},{"i":16,"o":120.3,"h":124.1,"l":119.4,"c":122.2,"v":38},{"i":17,"o":122.3,"h":124.5,"l":121.6,"c":123.7,"v":21},{"i":18,"o":123.9,"h":125.8,"l":122.6,"c":124.1,"v":38},{"i":19,"o":124.2,"h":126.2,"l":123.7,"c":124.5,"v":34},
{"i":20,"o":124.3,"h":125.3,"l":120.9,"c":121.6,"v":50},{"i":21,"o":121.9,"h":124.5,"l":121.2,"c":121.7,"v":32},{"i":22,"o":121.9,"h":123.8,"l":121.0,"c":121.2,"v":50},{"i":23,"o":121.0,"h":122.6,"l":101.7,"c":112.5,"v":153},{"i":24,"o":112.3,"h":113.1,"l":109.7,"c":111.0,"v":33},{"i":25,"o":111.0,"h":116.0,"l":111.0,"c":115.0,"v":50},{"i":26,"o":115.0,"h":116.0,"l":112.8,"c":113.6,"v":50},{"i":27,"o":113.6,"h":114.4,"l":110.0,"c":112.2,"v":72},{"i":28,"o":112.0,"h":113.5,"l":110.2,"c":111.5,"v":39},{"i":29,"o":111.5,"h":112.6,"l":107.8,"c":109.4,"v":42},
{"i":30,"o":109.3,"h":109.4,"l":103.6,"c":107.4,"v":55},{"i":31,"o":107.1,"h":107.6,"l":106.4,"c":107.3,"v":15},{"i":32,"o":107.4,"h":110.6,"l":106.1,"c":110.2,"v":38},{"i":33,"o":110.2,"h":111.8,"l":108.9,"c":109.2,"v":34},{"i":34,"o":109.0,"h":114.2,"l":107.6,"c":108.3,"v":55},{"i":35,"o":108.3,"h":109.4,"l":106.7,"c":108.5,"v":32},{"i":36,"o":108.6,"h":111.5,"l":108.4,"c":110.5,"v":22},{"i":37,"o":110.6,"h":112.3,"l":109.7,"c":111.1,"v":22},{"i":38,"o":111.0,"h":112.0,"l":110.7,"c":111.2,"v":10},{"i":39,"o":111.3,"h":115.5,"l":111.3,"c":115.0,"v":27},
{"i":40,"o":115.0,"h":116.5,"l":112.4,"c":114.0,"v":27},{"i":41,"o":113.8,"h":115.9,"l":112.2,"c":112.9,"v":27},{"i":42,"o":112.6,"h":113.5,"l":109.2,"c":111.0,"v":34},{"i":43,"o":110.8,"h":111.8,"l":106.4,"c":109.5,"v":38},{"i":44,"o":109.5,"h":111.1,"l":108.5,"c":110.2,"v":27},{"i":45,"o":110.3,"h":110.6,"l":109.7,"c":110.1,"v":5},{"i":46,"o":109.9,"h":111.2,"l":107.6,"c":108.0,"v":21},{"i":47,"o":107.8,"h":108.5,"l":105.5,"c":106.8,"v":33},{"i":48,"o":106.5,"h":106.5,"l":99.1,"c":101.9,"v":72},{"i":49,"o":102.0,"h":104.5,"l":101.3,"c":103.9,"v":27},
{"i":50,"o":103.9,"h":104.0,"l":100.3,"c":102.0,"v":34},{"i":51,"o":102.0,"h":103.9,"l":99.1,"c":102.3,"v":34},{"i":52,"o":102.3,"h":102.8,"l":101.2,"c":101.9,"v":17},{"i":53,"o":101.8,"h":106.5,"l":101.8,"c":106.0,"v":34},{"i":54,"o":106.1,"h":107.6,"l":105.7,"c":105.9,"v":32},{"i":55,"o":105.7,"h":105.7,"l":102.6,"c":103.5,"v":29},{"i":56,"o":103.3,"h":105.5,"l":100.7,"c":102.3,"v":34},{"i":57,"o":102.0,"h":103.9,"l":96.2,"c":97.8,"v":62},{"i":58,"o":97.8,"h":97.8,"l":94.1,"c":96.2,"v":67},{"i":59,"o":96.1,"h":96.5,"l":95.0,"c":95.9,"v":15},
{"i":60,"o":95.8,"h":96.4,"l":92.9,"c":95.0,"v":34},{"i":61,"o":94.8,"h":94.9,"l":89.3,"c":89.9,"v":55},{"i":62,"o":89.9,"h":93.7,"l":89.3,"c":90.8,"v":45},{"i":63,"o":91.1,"h":92.8,"l":88.7,"c":92.7,"v":55},{"i":64,"o":92.7,"h":93.1,"l":91.8,"c":92.5,"v":4}
]
},
"layer":[
{
"encoding":{
"y":{"field":"p","type":"quantitative","scale":{"domain":[122.25,177.2],"nice":false,"zero":false,"padding":0},"axis":null}
},
"layer":[
{"data":{"name":"profile"},"mark":{"type":"bar","orient":"horizontal","size":6.5},"encoding":{"x":{"field":"c","type":"quantitative","scale":{"domain":[0,4757],"nice":false},"axis":null},"fill":{"condition":{"test":"datum.k=='r'","value":"#b08a8a"},"value":"#787b86"},"opacity":{"condition":{"test":"datum.k=='r'","value":0.26},"value":0.2}}},
{"data":{"name":"profile"},"mark":{"type":"bar","orient":"horizontal","size":6.5},"encoding":{"x":{"field":"b","type":"quantitative","scale":{"domain":[0,4757],"nice":false},"axis":null},"fill":{"condition":{"test":"datum.k=='r'","value":"#f7525f"},"value":"#5d6f6f"},"opacity":{"condition":{"test":"datum.k=='r'","value":0.17},"value":0.27}}},
{"data":{"name":"profile"},"mark":{"type":"bar","orient":"horizontal","size":6.5},"encoding":{"x":{"field":"a","type":"quantitative","scale":{"domain":[0,4757],"nice":false},"axis":null},"fill":{"condition":{"test":"datum.k=='r'","value":"#f23645"},"value":"#3c4444"},"opacity":{"condition":{"test":"datum.k=='r'","value":0.35},"value":0.48}}}
]
},
{
"encoding":{
"x":{"field":"d","type":"quantitative","scale":{"domain":[6.954,23.406],"nice":false,"zero":false,"padding":0},"axis":{"orient":"bottom","offset":-55,"values":[7,8,9,10,11,12,13,14,15,16,17,18,19,20,21,22],"format":"d","title":null,"domain":false,"ticks":false,"grid":false,"labelPadding":15,"labelFont":"Roboto","labelFontSize":26,"labelColor":"#131722","labelFlush":false,"labelOverlap":false,"labelFontWeight":{"condition":{"test":"datum.value==10||datum.value==17","value":"bold"},"value":"normal"}}},
"y":{"field":"p","type":"quantitative","scale":{"domain":[122.25,177.2],"nice":false,"zero":false,"padding":0},"axis":{"orient":"right","offset":-119,"values":[125,127.5,130,132.5,135,137.5,140,142.5,145,147.5,150,152.5,155,157.5,160,162.5,165,167.5,170,172.5,175],"format":".2f","title":null,"domain":false,"ticks":false,"grid":false,"labelPadding":18,"labelFont":"Roboto","labelFontSize":26,"labelColor":"#131722","labelFlush":false,"labelOverlap":false}}
},
"layer":[
{"data":{"values":[{"d":13.62,"d2":21.98,"p":143.33,"p2":129.33}]},"mark":{"type":"rect","fill":{"gradient":"linear","x1":0,"y1":0,"x2":0,"y2":1,"stops":[{"offset":0,"color":"#e8f8e4"},{"offset":1,"color":"#fbfbe9"}]},"stroke":"#ff9800","strokeWidth":3,"strokeDash":[3,4]},"encoding":{"x2":{"field":"d2"},"y2":{"field":"p2"}}},
{"data":{"values":[{"d":13.71,"d2":15.79,"p":151.49,"p2":150.87},{"d":16.285,"d2":18.2,"p":143.99,"p2":143.37}]},"mark":{"type":"rect","fill":"#e2c6ca","cornerRadius":9},"encoding":{"x2":{"field":"d2"},"y2":{"field":"p2"}}},
{"data":{"values":[{"d":6.954,"d2":22.689,"p":124.37}]},"mark":{"type":"rule","stroke":"#e0e3eb","strokeWidth":2.5},"encoding":{"x2":{"field":"d2"}}},
{"data":{"values":[{"d":22.689,"p":122.25,"p2":177.2}]},"mark":{"type":"rule","stroke":"#787b86","strokeWidth":2.5,"opacity":0.3},"encoding":{"y2":{"field":"p2"}}},
{"data":{"values":[{"d":7.514,"d2":22.689,"p":150.87},{"d":16.37,"d2":22.267,"p":143.35},{"d":22.647,"d2":22.689,"p":143.35}]},"mark":{"type":"rule","stroke":"#f0707a","strokeWidth":2.5,"strokeDash":[12,10]},"encoding":{"x2":{"field":"d2"}}},
{"data":{"values":[{"d":14.5,"d2":22.689,"p":135.67}]},"mark":{"type":"rule","stroke":"#82a5f0","strokeWidth":2.5,"strokeDash":[12,10]},"encoding":{"x2":{"field":"d2"}}},
{"data":{"values":[{"d":13.67,"d2":22.141,"p":155.4},{"d":22.641,"d2":22.689,"p":155.4}]},"mark":{"type":"rule","stroke":"#089981","strokeWidth":2,"strokeDash":[2,4]},"encoding":{"x2":{"field":"d2"}}},
{"data":{"values":[{"d":13.67,"d2":22.322,"p":150.3},{"d":22.641,"d2":22.689,"p":150.3},{"d":19.737,"d2":22.322,"p":137.61},{"d":22.641,"d2":22.689,"p":137.61}]},"mark":{"type":"rule","stroke":"#4caf50","strokeWidth":2,"strokeDash":[2,4]},"encoding":{"x2":{"field":"d2"}}},
{"data":{"values":[{"d":19.737,"d2":22.135,"p":134.67},{"d":22.641,"d2":22.689,"p":134.67}]},"mark":{"type":"rule","stroke":"#00bcd4","strokeWidth":2,"strokeDash":[2,4]},"encoding":{"x2":{"field":"d2"}}},
{"data":{"name":"candles"},"mark":{"type":"rule","strokeWidth":2},"encoding":{"y":{"field":"l","type":"quantitative","scale":{"domain":[122.25,177.2],"nice":false,"zero":false,"padding":0}},"y2":{"field":"h"},"stroke":{"condition":{"test":"datum.c>=datum.o","value":"#f21f62"},"value":"#2a2e39"}}},
{"data":{"name":"candles"},"mark":{"type":"bar","orient":"vertical","size":4,"strokeWidth":2},"encoding":{"y":{"field":"o","type":"quantitative","scale":{"domain":[122.25,177.2],"nice":false,"zero":false,"padding":0}},"y2":{"field":"c"},"fill":{"condition":{"test":"datum.c>=datum.o","value":"#ff8c00"},"value":"#50535e"},"stroke":{"condition":{"test":"datum.c>=datum.o","value":"#f21f62"},"value":"#2a2e39"}}},
{"data":{"values":[{"id":"a","i":0,"d":20.653,"p":151.65},{"id":"a","i":1,"d":20.695,"p":149.47},{"id":"a","i":2,"d":20.781,"p":150.63},{"id":"a","i":3,"d":20.822,"p":150.05},{"id":"a","i":4,"d":20.904,"p":150.72},{"id":"a","i":5,"d":21.066,"p":143.79},{"id":"a","i":6,"d":20.996,"p":144.15},{"id":"a","i":7,"d":21.066,"p":143.79},{"id":"a","i":8,"d":21.125,"p":144.24},{"id":"b","i":0,"d":20.776,"p":143.23},{"id":"b","i":1,"d":21.069,"p":130.74},{"id":"b","i":2,"d":20.996,"p":131.13},{"id":"b","i":3,"d":21.069,"p":130.74},{"id":"b","i":4,"d":21.125,"p":131.19}]},"mark":{"type":"line","stroke":"#a5a5a5","strokeWidth":2},"encoding":{"detail":{"field":"id"},"order":{"field":"i"}}},
{"data":{"values":[{"i":0,"d":20.406,"p":145.4},{"i":1,"d":20.487,"p":141.57},{"i":2,"d":20.571,"p":143.05},{"i":3,"d":20.616,"p":142.28},{"i":4,"d":20.654,"p":142.99},{"i":5,"d":20.776,"p":137.83},{"i":6,"d":20.707,"p":138.18},{"i":7,"d":20.776,"p":137.83},{"i":8,"d":20.832,"p":138.28}]},"mark":{"type":"line","stroke":"#000000","strokeWidth":2},"encoding":{"order":{"field":"i"}}},
{"data":{"values":[{"i":0,"d":21.107,"p":143.31},{"i":1,"d":21.323,"p":137.61},{"i":2,"d":21.411,"p":137.95},{"i":3,"d":21.275,"p":135.9},{"i":4,"d":21.063,"p":137.64},{"i":5,"d":21.153,"p":137.44},{"i":6,"d":21.107,"p":143.31}]},"mark":{"type":"line","stroke":"#ee8a8a","strokeWidth":3,"fill":"#f0a9a7"},"encoding":{"order":{"field":"i"}}},
{"data":{"values":[{"d":14.5,"d2":21.97,"p":165.69,"p2":161.55},{"d":7.848,"d2":13.072,"p":148.18,"p2":144.9}]},"mark":{"type":"rect","fill":"#ffffff","stroke":"#000000","strokeWidth":1.5,"cornerRadius":14},"encoding":{"x2":{"field":"d2"},"y2":{"field":"p2"}}},
{"data":{"values":[{"id":"a","i":0,"d":18.129,"p":161.55},{"id":"a","i":1,"d":19.153,"p":153.67},{"id":"a","i":2,"d":18.34,"p":161.55},{"id":"b","i":0,"d":10.361,"p":144.9},{"id":"b","i":1,"d":10.673,"p":142.54},{"id":"b","i":2,"d":10.559,"p":144.9}]},"mark":{"type":"line","stroke":"#000000","strokeWidth":1.2,"fill":"#ffffff"},"encoding":{"detail":{"field":"id"},"order":{"field":"i"}}},
{"data":{"values":[{"d":14.63,"p":164.5,"t":"Since the opening of the session, SOL has been rallying and breaking through the channel resistance."},{"d":14.63,"p":163.65,"t":"However, there is no momentum to continue the growth. It can be assumed that the coin is facing pressure."},{"d":14.63,"p":162.78,"t":"A false breakout and closing below 143.3 could trigger a pullback."},{"d":7.972,"p":146.98,"t":"Bitcoin is forming a local correction after a sharp decline."},{"d":7.972,"p":146.12,"t":"However, with news ahead, the market may remain within a narrow range."}]},"mark":{"type":"text","align":"left","baseline":"middle","font":"Inter","fontWeight":"bold","fontSize":23,"fill":"#000000"},"encoding":{"text":{"field":"t"}}},
{"data":{"values":[{"d":8.879,"p":169.73}]},"mark":{"type":"point","shape":"circle","filled":true,"fill":"#000000","size":31329,"opacity":1}},
{"data":{"values":[{"i":0,"d":8.674,"p":171.13},{"i":1,"d":9.158,"p":171.13},{"i":2,"d":9.061,"p":170.44},{"i":3,"d":8.598,"p":170.44},{"i":4,"d":8.674,"p":171.13}]},"mark":{"type":"line","strokeWidth":0,"fill":{"gradient":"linear","x1":0,"y1":1,"x2":1,"y2":0,"stops":[{"offset":0,"color":"#7d8cd8"},{"offset":1,"color":"#14f195"}]}},"encoding":{"order":{"field":"i"}}},
{"data":{"values":[{"i":0,"d":8.598,"p":170.05},{"i":1,"d":9.061,"p":170.05},{"i":2,"d":9.158,"p":169.41},{"i":3,"d":8.698,"p":169.41},{"i":4,"d":8.598,"p":170.05}]},"mark":{"type":"line","strokeWidth":0,"fill":{"gradient":"linear","x1":0,"y1":0,"x2":1,"y2":1,"stops":[{"offset":0,"color":"#9a6ae8"},{"offset":1,"color":"#3ab8b0"}]}},"encoding":{"order":{"field":"i"}}},
{"data":{"values":[{"i":0,"d":8.698,"p":169.01},{"i":1,"d":9.158,"p":169.01},{"i":2,"d":9.061,"p":168.34},{"i":3,"d":8.598,"p":168.34},{"i":4,"d":8.698,"p":169.01}]},"mark":{"type":"line","strokeWidth":0,"fill":{"gradient":"linear","x1":0,"y1":1,"x2":1,"y2":0,"stops":[{"offset":0,"color":"#c83df0"},{"offset":1,"color":"#5fa0c8"}]}},"encoding":{"order":{"field":"i"}}},
{"data":{"values":[{"d":20.915,"p":171.86,"t":"R"}]},"mark":{"type":"text","align":"left","baseline":"middle","font":"Liberation Serif","fontWeight":"bold","fontSize":78,"fill":"#000000"},"encoding":{"text":{"field":"t"}}},
{"data":{"values":[{"d":21.164,"p":172.4,"t":"Linda"}]},"mark":{"type":"text","align":"left","baseline":"middle","font":"Roboto","fontWeight":"bold","fontSize":50,"fill":"#000000"},"encoding":{"text":{"field":"t"}}},
{"data":{"values":[{"d":20.84,"p":171.01,"t":"T"},{"d":21.274,"p":171.01,"t":"A D I N G"}]},"mark":{"type":"text","align":"left","baseline":"middle","font":"Roboto","fontSize":25,"fill":"#000000"},"encoding":{"text":{"field":"t"}}},
{"data":{"values":[{"d":22.219,"p":155.35,"t":"0.618"}]},"mark":{"type":"text","align":"left","baseline":"middle","font":"Roboto","fontSize":25,"fill":"#22ab94"},"encoding":{"text":{"field":"t"}}},
{"data":{"values":[{"d":22.388,"p":150.25,"t":"0.5"},{"d":22.388,"p":137.56,"t":"0.5"}]},"mark":{"type":"text","align":"left","baseline":"middle","font":"Roboto","fontSize":25,"fill":"#4caf50"},"encoding":{"text":{"field":"t"}}},
{"data":{"values":[{"d":22.213,"p":134.62,"t":"0.705"}]},"mark":{"type":"text","align":"left","baseline":"middle","font":"Roboto","fontSize":25,"fill":"#00bcd4"},"encoding":{"text":{"field":"t"}}},
{"data":{"values":[{"d":22.388,"p":143.26,"t":"eqh"}]},"mark":{"type":"text","align":"left","baseline":"middle","font":"Roboto","fontSize":23,"fill":"#131722"},"encoding":{"text":{"field":"t"}}},
{"data":{"values":[{"d":22.689,"d2":23.394,"p":151.527,"p2":150.213},{"d":22.689,"d2":23.394,"p":144.007,"p2":142.693}]},"mark":{"type":"rect","fill":"#f23645","cornerRadiusTopRight":4,"cornerRadiusBottomRight":4},"encoding":{"x2":{"field":"d2"},"y2":{"field":"p2"}}},
{"data":{"values":[{"d":22.689,"d2":23.394,"p":136.327,"p2":135.013}]},"mark":{"type":"rect","fill":"#2962ff","cornerRadiusTopRight":4,"cornerRadiusBottomRight":4},"encoding":{"x2":{"field":"d2"},"y2":{"field":"p2"}}},
{"data":{"values":[{"d":23.04,"p":150.87,"t":"150.87"},{"d":23.04,"p":143.35,"t":"143.35"},{"d":23.04,"p":135.67,"t":"135.67"}]},"mark":{"type":"text","align":"center","baseline":"middle","font":"Roboto","fontSize":26,"fill":"#ffffff"},"encoding":{"text":{"field":"t"}}},
{"data":{"values":[{"d":6.952,"p":179.62,"t":"RLinda"},{"d":6.952,"p":178.32,"t":"BINANCE:SOLUSDT.P, 60"},{"d":10.454,"p":178.32,"t":"O:"},{"d":11.147,"p":178.32,"t":"H:"},{"d":11.84,"p":178.32,"t":"L:"},{"d":12.46,"p":178.32,"t":"C:"}]},"mark":{"type":"text","align":"left","baseline":"middle","font":"Roboto","fontWeight":"bold","fontSize":25,"fill":"#d1d4dc"},"encoding":{"text":{"field":"t"}}},
{"data":{"values":[{"d":7.464,"p":179.62,"t":"published on TradingView.com, November 20, 2025 04:05:03 EST"},{"d":8.701,"p":178.32,"t":"143.02"},{"d":9.376,"p":178.32,"t":"+6.06 (+4.42%)"}]},"mark":{"type":"text","align":"left","baseline":"middle","font":"Roboto","fontSize":25.5,"fill":"#d1d4dc"},"encoding":{"text":{"field":"t"}}},
{"data":{"values":[{"d":9.207,"p":178.32,"t":"▲"},{"d":10.629,"p":178.32,"t":"143.35"},{"d":11.313,"p":178.32,"t":"143.38"},{"d":11.955,"p":178.32,"t":"142.89"},{"d":12.605,"p":178.32,"t":"143.01"}]},"mark":{"type":"text","align":"left","baseline":"middle","font":"Roboto","fontSize":25.5,"fill":"#22ab94"},"encoding":{"text":{"field":"t"}}},
{"data":{"values":[{"d":7.057,"p":175.92,"t":"SOLUSDT.P · SOL / TetherUS PERPETUAL CONTRACT · 1h · Binance"}]},"mark":{"type":"text","align":"left","baseline":"middle","font":"Roboto","fontWeight":500,"fontSize":25,"fill":"#131722"},"encoding":{"text":{"field":"t"}}},
{"data":{"values":[{"d":7.265,"p":120.79,"t":"TradingView"}]},"mark":{"type":"text","align":"left","baseline":"middle","font":"Roboto","fontWeight":"bold","fontSize":33,"fill":"#d1d4dc"},"encoding":{"text":{"field":"t"}}},
{"data":{"values":[{"id":"t","i":0,"d":6.952,"p":121.26},{"id":"t","i":1,"d":7.083,"p":121.26},{"id":"t","i":2,"d":7.083,"p":120.36},{"id":"t","i":3,"d":7.0,"p":120.36},{"id":"t","i":4,"d":7.0,"p":120.85},{"id":"t","i":5,"d":6.952,"p":120.85},{"id":"t","i":6,"d":6.952,"p":121.26},{"id":"s","i":0,"d":7.125,"p":121.26},{"id":"s","i":1,"d":7.222,"p":121.26},{"id":"s","i":2,"d":7.152,"p":120.36},{"id":"s","i":3,"d":7.077,"p":120.36},{"id":"s","i":4,"d":7.125,"p":121.26}]},"mark":{"type":"line","strokeWidth":0,"fill":"#d1d4dc"},"encoding":{"detail":{"field":"id"},"order":{"field":"i"}}},
{"data":{"values":[{"d":7.108,"p":121.09}]},"mark":{"type":"point","shape":"circle","filled":true,"fill":"#d1d4dc","size":90,"opacity":1}},
{"data":{"values":[{"d":8.123,"d2":11.798,"p":141.08,"p2":128.01}]},"mark":{"type":"rect","fill":"#ffffff","stroke":"#000000","strokeWidth":4},"encoding":{"x2":{"field":"d2"},"y2":{"field":"p2"}}}
]
},
{
"data":{"name":"btc"},
"mark":{"type":"bar","orient":"vertical","size":7.6},
"encoding":{
"x":{"field":"i","type":"quantitative","scale":{"domain":[0,64],"range":[253,736],"nice":false,"zero":false,"padding":0},"axis":null},
"y":{"field":"v","type":"quantitative","scale":{"domain":[0,153],"range":[1247,1196],"nice":false},"axis":null},
"fill":{"condition":{"test":"datum.c>=datum.o","value":"#b0deaa"},"value":"#ffc0c0"}
}
},
{
"encoding":{
"x":{"field":"i","type":"quantitative","scale":{"domain":[0,64],"range":[253,736],"nice":false,"zero":false,"padding":0},"axis":null},
"y":{"field":"y","type":"quantitative","scale":{"domain":[90,130],"range":[1214,961],"nice":false,"zero":false,"padding":0},"axis":null}
},
"layer":[
{"data":{"values":[{"i":-0.53,"i2":64.7,"y":130},{"i":-0.53,"i2":64.7,"y":120},{"i":-0.53,"i2":64.7,"y":110},{"i":-0.53,"i2":64.7,"y":100},{"i":-0.53,"i2":64.7,"y":90}]},"mark":{"type":"rule","stroke":"#d0d0d0","strokeWidth":1.5,"strokeDash":[6,6]},"encoding":{"x2":{"field":"i2"}}},
{"data":{"values":[{"i":14.1,"y":130,"y2":84.78},{"i":45.3,"y":130,"y2":84.78}]},"mark":{"type":"rule","stroke":"#d0d0d0","strokeWidth":1.5,"strokeDash":[6,6]},"encoding":{"y2":{"field":"y2"}}},
{"data":{"values":[{"i":47.9,"i2":72.7,"y":98.96}]},"mark":{"type":"rule","stroke":"#ff0000","strokeWidth":3.3},"encoding":{"x2":{"field":"i2"}}},
{"data":{"name":"btc"},"mark":{"type":"rule","strokeWidth":1.4},"encoding":{"y":{"field":"l","type":"quantitative","scale":{"domain":[90,130],"range":[1214,961],"nice":false,"zero":false,"padding":0},"axis":null},"y2":{"field":"h"},"stroke":{"condition":{"test":"datum.c>=datum.o","value":"#0a7a0a"},"value":"#8b0000"}}},
{"data":{"name":"btc"},"mark":{"type":"bar","orient":"vertical","size":4.6,"strokeWidth":1.4},"encoding":{"y":{"field":"o","type":"quantitative","scale":{"domain":[90,130],"range":[1214,961],"nice":false,"zero":false,"padding":0},"axis":null},"y2":{"field":"c"},"fill":{"condition":{"test":"datum.c>=datum.o","value":"#00e600"},"value":"#e60000"},"stroke":{"condition":{"test":"datum.c>=datum.o","value":"#0a7a0a"},"value":"#8b0000"}}},
{"data":{"values":[{"i":-6.8,"y":131.0,"t":"BTC/USD"}]},"mark":{"type":"text","align":"left","baseline":"middle","font":"Liberation Sans","fontWeight":"bold","fontSize":40,"fill":"#808080"},"encoding":{"text":{"field":"t"}}},
{"data":{"values":[{"i":-3.87,"y":112.77,"t":"DAILY"}]},"mark":{"type":"text","align":"center","baseline":"middle","angle":270,"font":"Liberation Sans","fontWeight":"bold","fontSize":20,"fill":"#e0e0e0"},"encoding":{"text":{"field":"t"}}},
{"data":{"values":[{"i":65.8,"y":130,"t":"130000"},{"i":65.8,"y":120,"t":"120000"},{"i":65.8,"y":110,"t":"110000"},{"i":65.8,"y":100,"t":"100000"},{"i":65.8,"y":90,"t":"90000"}]},"mark":{"type":"text","align":"left","baseline":"middle","font":"Liberation Sans","fontSize":18,"fill":"#999999","limit":56,"ellipsis":" "},"encoding":{"text":{"field":"t"}}},
{"data":{"values":[{"i":14,"y":82.68,"t":"Oct"},{"i":45.2,"y":82.68,"t":"Nov"}]},"mark":{"type":"text","align":"center","baseline":"middle","font":"Liberation Sans","fontSize":18,"fill":"#888888"},"encoding":{"text":{"field":"t"}}},
{"data":{"values":[{"i":65.26,"i2":72.7,"y":93.84,"y2":90.68}]},"mark":{"type":"rect","fill":"#ffee00"},"encoding":{"x2":{"field":"i2"},"y2":{"field":"y2"}}},
{"data":{"values":[{"i":65.7,"y":92.2,"t":"92159."}]},"mark":{"type":"text","align":"left","baseline":"middle","font":"Liberation Sans","fontWeight":"bold","fontSize":18,"fill":"#000000"},"encoding":{"text":{"field":"t"}}}
]
}
]
}
